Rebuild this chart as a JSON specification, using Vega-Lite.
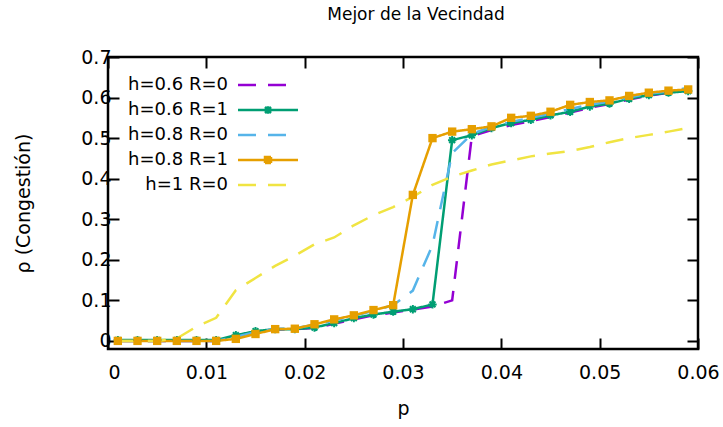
{
  "$schema": "https://vega.github.io/schema/vega-lite/v6.json",
  "width": 590,
  "height": 292,
  "autosize": {"type": "none"},
  "padding": {"left": 108, "top": 57, "right": 25, "bottom": 78},
  "background": "white",
  "title": {"text": "Mejor de la Vecindad", "font": "DejaVu Sans", "fontSize": 17, "fontWeight": "normal", "color": "black", "offset": 24, "dx": 13},
  "config": {
    "view": {"stroke": "black", "strokeWidth": 2.5},
    "axis": {"domain": false, "grid": false, "tickColor": "black", "tickWidth": 2, "tickSize": -11, "labelFont": "DejaVu Sans", "labelFontSize": 19, "labelColor": "black", "titleFont": "DejaVu Sans", "titleFontSize": 19, "titleFontWeight": "normal", "titleColor": "black"}
  },
  "datasets": {
    "d": [
      {"serie":"h=0.6 R=0","p":0.001,"rho":0},{"serie":"h=0.6 R=0","p":0.003,"rho":0},{"serie":"h=0.6 R=0","p":0.005,"rho":0},{"serie":"h=0.6 R=0","p":0.007,"rho":0},{"serie":"h=0.6 R=0","p":0.009,"rho":0},{"serie":"h=0.6 R=0","p":0.011,"rho":0},{"serie":"h=0.6 R=0","p":0.013,"rho":0.012},{"serie":"h=0.6 R=0","p":0.015,"rho":0.022},{"serie":"h=0.6 R=0","p":0.017,"rho":0.028},{"serie":"h=0.6 R=0","p":0.019,"rho":0.029},{"serie":"h=0.6 R=0","p":0.021,"rho":0.032},{"serie":"h=0.6 R=0","p":0.023,"rho":0.042},{"serie":"h=0.6 R=0","p":0.025,"rho":0.053},{"serie":"h=0.6 R=0","p":0.027,"rho":0.063},{"serie":"h=0.6 R=0","p":0.029,"rho":0.070},{"serie":"h=0.6 R=0","p":0.031,"rho":0.077},{"serie":"h=0.6 R=0","p":0.033,"rho":0.085},{"serie":"h=0.6 R=0","p":0.035,"rho":0.100},{"serie":"h=0.6 R=0","p":0.037,"rho":0.505},{"serie":"h=0.6 R=0","p":0.039,"rho":0.520},{"serie":"h=0.6 R=0","p":0.041,"rho":0.532},{"serie":"h=0.6 R=0","p":0.043,"rho":0.542},{"serie":"h=0.6 R=0","p":0.045,"rho":0.552},{"serie":"h=0.6 R=0","p":0.047,"rho":0.563},{"serie":"h=0.6 R=0","p":0.049,"rho":0.575},{"serie":"h=0.6 R=0","p":0.051,"rho":0.584},{"serie":"h=0.6 R=0","p":0.053,"rho":0.595},{"serie":"h=0.6 R=0","p":0.055,"rho":0.605},{"serie":"h=0.6 R=0","p":0.057,"rho":0.612},{"serie":"h=0.6 R=0","p":0.059,"rho":0.617},
      {"serie":"h=0.6 R=1","p":0.001,"rho":0.002},{"serie":"h=0.6 R=1","p":0.003,"rho":0.002},{"serie":"h=0.6 R=1","p":0.005,"rho":0.002},{"serie":"h=0.6 R=1","p":0.007,"rho":0.002},{"serie":"h=0.6 R=1","p":0.009,"rho":0.002},{"serie":"h=0.6 R=1","p":0.011,"rho":0.002},{"serie":"h=0.6 R=1","p":0.013,"rho":0.014},{"serie":"h=0.6 R=1","p":0.015,"rho":0.024},{"serie":"h=0.6 R=1","p":0.017,"rho":0.029},{"serie":"h=0.6 R=1","p":0.019,"rho":0.029},{"serie":"h=0.6 R=1","p":0.021,"rho":0.033},{"serie":"h=0.6 R=1","p":0.023,"rho":0.044},{"serie":"h=0.6 R=1","p":0.025,"rho":0.056},{"serie":"h=0.6 R=1","p":0.027,"rho":0.065},{"serie":"h=0.6 R=1","p":0.029,"rho":0.072},{"serie":"h=0.6 R=1","p":0.031,"rho":0.078},{"serie":"h=0.6 R=1","p":0.033,"rho":0.090},{"serie":"h=0.6 R=1","p":0.035,"rho":0.495},{"serie":"h=0.6 R=1","p":0.037,"rho":0.507},{"serie":"h=0.6 R=1","p":0.039,"rho":0.525},{"serie":"h=0.6 R=1","p":0.041,"rho":0.537},{"serie":"h=0.6 R=1","p":0.043,"rho":0.545},{"serie":"h=0.6 R=1","p":0.045,"rho":0.556},{"serie":"h=0.6 R=1","p":0.047,"rho":0.565},{"serie":"h=0.6 R=1","p":0.049,"rho":0.578},{"serie":"h=0.6 R=1","p":0.051,"rho":0.585},{"serie":"h=0.6 R=1","p":0.053,"rho":0.597},{"serie":"h=0.6 R=1","p":0.055,"rho":0.606},{"serie":"h=0.6 R=1","p":0.057,"rho":0.612},{"serie":"h=0.6 R=1","p":0.059,"rho":0.616},
      {"serie":"h=0.8 R=0","p":0.001,"rho":0},{"serie":"h=0.8 R=0","p":0.003,"rho":0},{"serie":"h=0.8 R=0","p":0.005,"rho":0},{"serie":"h=0.8 R=0","p":0.007,"rho":0},{"serie":"h=0.8 R=0","p":0.009,"rho":0},{"serie":"h=0.8 R=0","p":0.011,"rho":0},{"serie":"h=0.8 R=0","p":0.013,"rho":0.010},{"serie":"h=0.8 R=0","p":0.015,"rho":0.022},{"serie":"h=0.8 R=0","p":0.017,"rho":0.030},{"serie":"h=0.8 R=0","p":0.019,"rho":0.031},{"serie":"h=0.8 R=0","p":0.021,"rho":0.040},{"serie":"h=0.8 R=0","p":0.023,"rho":0.050},{"serie":"h=0.8 R=0","p":0.025,"rho":0.062},{"serie":"h=0.8 R=0","p":0.027,"rho":0.074},{"serie":"h=0.8 R=0","p":0.029,"rho":0.088},{"serie":"h=0.8 R=0","p":0.031,"rho":0.124},{"serie":"h=0.8 R=0","p":0.033,"rho":0.236},{"serie":"h=0.8 R=0","p":0.035,"rho":0.463},{"serie":"h=0.8 R=0","p":0.037,"rho":0.510},{"serie":"h=0.8 R=0","p":0.039,"rho":0.528},{"serie":"h=0.8 R=0","p":0.041,"rho":0.540},{"serie":"h=0.8 R=0","p":0.043,"rho":0.550},{"serie":"h=0.8 R=0","p":0.045,"rho":0.560},{"serie":"h=0.8 R=0","p":0.047,"rho":0.572},{"serie":"h=0.8 R=0","p":0.049,"rho":0.582},{"serie":"h=0.8 R=0","p":0.051,"rho":0.590},{"serie":"h=0.8 R=0","p":0.053,"rho":0.600},{"serie":"h=0.8 R=0","p":0.055,"rho":0.610},{"serie":"h=0.8 R=0","p":0.057,"rho":0.615},{"serie":"h=0.8 R=0","p":0.059,"rho":0.624},
      {"serie":"h=0.8 R=1","p":0.001,"rho":0},{"serie":"h=0.8 R=1","p":0.003,"rho":0},{"serie":"h=0.8 R=1","p":0.005,"rho":0},{"serie":"h=0.8 R=1","p":0.007,"rho":0},{"serie":"h=0.8 R=1","p":0.009,"rho":0},{"serie":"h=0.8 R=1","p":0.011,"rho":0},{"serie":"h=0.8 R=1","p":0.013,"rho":0.005},{"serie":"h=0.8 R=1","p":0.015,"rho":0.017},{"serie":"h=0.8 R=1","p":0.017,"rho":0.029},{"serie":"h=0.8 R=1","p":0.019,"rho":0.030},{"serie":"h=0.8 R=1","p":0.021,"rho":0.041},{"serie":"h=0.8 R=1","p":0.023,"rho":0.053},{"serie":"h=0.8 R=1","p":0.025,"rho":0.063},{"serie":"h=0.8 R=1","p":0.027,"rho":0.076},{"serie":"h=0.8 R=1","p":0.029,"rho":0.088},{"serie":"h=0.8 R=1","p":0.031,"rho":0.360},{"serie":"h=0.8 R=1","p":0.033,"rho":0.500},{"serie":"h=0.8 R=1","p":0.035,"rho":0.516},{"serie":"h=0.8 R=1","p":0.037,"rho":0.522},{"serie":"h=0.8 R=1","p":0.039,"rho":0.529},{"serie":"h=0.8 R=1","p":0.041,"rho":0.550},{"serie":"h=0.8 R=1","p":0.043,"rho":0.555},{"serie":"h=0.8 R=1","p":0.045,"rho":0.565},{"serie":"h=0.8 R=1","p":0.047,"rho":0.582},{"serie":"h=0.8 R=1","p":0.049,"rho":0.589},{"serie":"h=0.8 R=1","p":0.051,"rho":0.593},{"serie":"h=0.8 R=1","p":0.053,"rho":0.604},{"serie":"h=0.8 R=1","p":0.055,"rho":0.612},{"serie":"h=0.8 R=1","p":0.057,"rho":0.617},{"serie":"h=0.8 R=1","p":0.059,"rho":0.620},
      {"serie":"h=1 R=0","p":0.001,"rho":0},{"serie":"h=1 R=0","p":0.003,"rho":0},{"serie":"h=1 R=0","p":0.005,"rho":0},{"serie":"h=1 R=0","p":0.007,"rho":0.006},{"serie":"h=1 R=0","p":0.009,"rho":0.035},{"serie":"h=1 R=0","p":0.011,"rho":0.057},{"serie":"h=1 R=0","p":0.013,"rho":0.125},{"serie":"h=1 R=0","p":0.015,"rho":0.155},{"serie":"h=1 R=0","p":0.017,"rho":0.185},{"serie":"h=1 R=0","p":0.019,"rho":0.210},{"serie":"h=1 R=0","p":0.021,"rho":0.238},{"serie":"h=1 R=0","p":0.023,"rho":0.255},{"serie":"h=1 R=0","p":0.025,"rho":0.285},{"serie":"h=1 R=0","p":0.027,"rho":0.310},{"serie":"h=1 R=0","p":0.029,"rho":0.330},{"serie":"h=1 R=0","p":0.031,"rho":0.355},{"serie":"h=1 R=0","p":0.033,"rho":0.385},{"serie":"h=1 R=0","p":0.035,"rho":0.405},{"serie":"h=1 R=0","p":0.037,"rho":0.420},{"serie":"h=1 R=0","p":0.039,"rho":0.435},{"serie":"h=1 R=0","p":0.041,"rho":0.445},{"serie":"h=1 R=0","p":0.043,"rho":0.455},{"serie":"h=1 R=0","p":0.045,"rho":0.462},{"serie":"h=1 R=0","p":0.047,"rho":0.468},{"serie":"h=1 R=0","p":0.049,"rho":0.478},{"serie":"h=1 R=0","p":0.051,"rho":0.490},{"serie":"h=1 R=0","p":0.053,"rho":0.500},{"serie":"h=1 R=0","p":0.055,"rho":0.508},{"serie":"h=1 R=0","p":0.057,"rho":0.516},{"serie":"h=1 R=0","p":0.059,"rho":0.525}
    ]
  },
  "data": {"name": "d"},
  "resolve": {"axis": {"x": "independent", "y": "independent"}},
  "layer": [
    {
      "mark": {"type": "line", "strokeWidth": 2.5},
      "encoding": {
        "x": {"field": "p", "type": "quantitative", "scale": {"domain": [0, 0.06], "nice": false, "zero": false}, "axis": {"orient": "bottom", "values": [0, 0.01, 0.02, 0.03, 0.04, 0.05, 0.06], "format": "~g", "title": "p", "labelPadding": 25, "titlePadding": 17, "labelFlush": false, "labelAlign": {"condition": {"test": "datum.value === 0", "value": "left"}, "value": "center"}}},
        "y": {"field": "rho", "type": "quantitative", "scale": {"domain": [-0.02, 0.7], "nice": false, "zero": false}, "axis": {"orient": "left", "values": [0, 0.1, 0.2, 0.3, 0.4, 0.5, 0.6, 0.7], "format": "~g", "title": "ρ (Congestión)", "labelPadding": 8, "titlePadding": 47}},
        "color": {
          "field": "serie", "type": "nominal",
          "scale": {"domain": ["h=0.6 R=0", "h=0.6 R=1", "h=0.8 R=0", "h=0.8 R=1", "h=1 R=0"], "range": ["#9400D3", "#009E73", "#56B4E9", "#E69F00", "#F0E442"]},
          "legend": {
            "orient": "none", "legendX": 100, "legendY": 19, "title": null, "padding": 0,
            "labelAlign": "right", "labelOffset": -49, "symbolOffset": 51,
            "labelFont": "DejaVu Sans", "labelFontSize": 18, "labelColor": "black", "labelLimit": 300,
            "rowPadding": 7, "symbolSize": 100, "symbolStrokeWidth": 2.5,
            "encode": {"symbols": {"update": {
              "fill": {"scale": "color", "field": "value"},
              "shape": {"signal": "datum.value === 'h=0.6 R=1' ? 'M-6,0H6M-0.6,-0.6L0.6,0.6M-0.6,0.6L0.6,-0.6M0,-0.75V0.75' : (datum.value === 'h=0.8 R=1' ? 'M-6,0H6M-0.6,-0.6H0.6V0.6H-0.6Z' : 'M-6,0H6')"}
            }}}
          }
        },
        "strokeDash": {
          "field": "serie", "type": "nominal",
          "scale": {"domain": ["h=0.6 R=0", "h=0.6 R=1", "h=0.8 R=0", "h=0.8 R=1", "h=1 R=0"], "range": [[18, 12], [1, 0], [18, 12], [1, 0], [18, 12]]}
        }
      }
    },
    {
      "transform": [{"filter": "datum.serie === 'h=0.6 R=1'"}],
      "mark": {"type": "point", "filled": false, "color": "#009E73", "strokeWidth": 2, "size": 70, "opacity": 1, "shape": "M-1,0H1M0,-1V1M-0.7,-0.7L0.7,0.7M-0.7,0.7L0.7,-0.7"},
      "encoding": {
        "x": {"field": "p", "type": "quantitative", "axis": {"orient": "top", "values": [0, 0.01, 0.02, 0.03, 0.04, 0.05, 0.06], "labels": false, "title": null}},
        "y": {"field": "rho", "type": "quantitative", "axis": {"orient": "right", "values": [0, 0.1, 0.2, 0.3, 0.4, 0.5, 0.6, 0.7], "labels": false, "title": null}}
      }
    },
    {
      "transform": [{"filter": "datum.serie === 'h=0.8 R=1'"}],
      "mark": {"type": "point", "filled": true, "color": "#E69F00", "shape": "square", "size": 70, "opacity": 1},
      "encoding": {
        "x": {"field": "p", "type": "quantitative", "axis": null},
        "y": {"field": "rho", "type": "quantitative", "axis": null}
      }
    }
  ]
}
